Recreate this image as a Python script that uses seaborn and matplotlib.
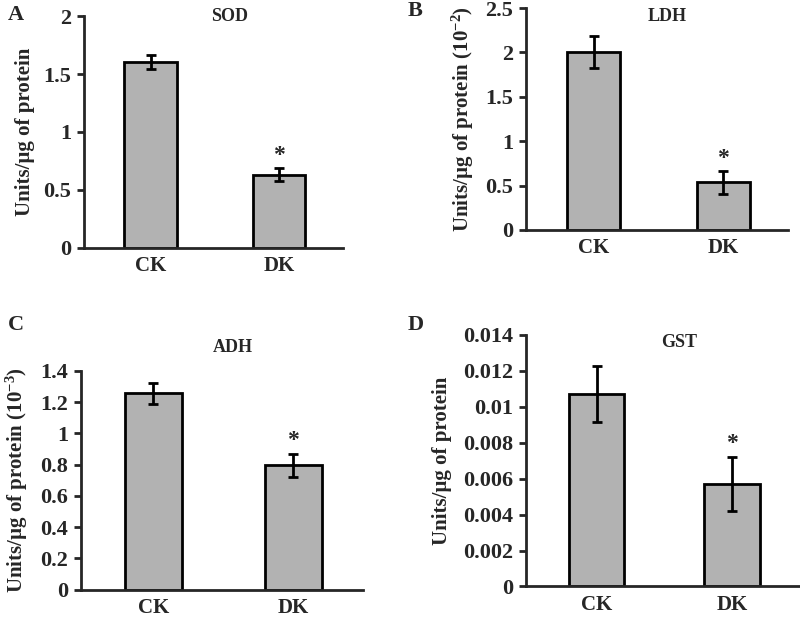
import numpy as np
import pandas as pd
import matplotlib
matplotlib.use("Agg")
import matplotlib.pyplot as plt
import seaborn as sns

# data
groups = ["CK", "DK"]
sod_mean = [1.60, 0.63]
sod_err = [0.06, 0.055]
ldh_mean = [2.00, 0.535]
ldh_err = [0.18, 0.13]
adh_mean = [1.255, 0.795]
adh_err = [0.07, 0.075]
gst_mean = [0.0107, 0.0057]
gst_err = [0.00155, 0.00152]

sns.set_style("ticks")
plt.rcParams["font.family"] = ["Liberation Serif", "DejaVu Serif"]
plt.rcParams["font.weight"] = "bold"
plt.rcParams["mathtext.fontset"] = "custom"
plt.rcParams["mathtext.rm"] = "Liberation Serif:bold"
plt.rcParams["mathtext.default"] = "rm"

fig = plt.figure(figsize=(8, 6.18), dpi=100)

panels = [
    # letter, title, mean, err, ylim, yticks, ylabel, axes rect, title pos, letter pos, label x, tick size
    ("A", "SOD", sod_mean, sod_err, (0, 2), np.arange(0, 2.01, 0.5),
     "Units/µg of protein", [0.105, 0.599, 0.324, 0.375], (0.56, 1.0), (0.01, 0.975), -0.19, 16),
    ("B", "LDH", ldh_mean, ldh_err, (0, 2.5), np.arange(0, 2.51, 0.5),
     "Units/µg of protein (10$^{-2}$)", [0.6575, 0.628, 0.328, 0.359], (0.54, 0.964), (0.51, 0.983), -0.19, 16),
    ("C", "ADH", adh_mean, adh_err, (0, 1.4), np.arange(0, 1.41, 0.2),
     "Units/µg of protein (10$^{-3}$)", [0.101, 0.046, 0.353, 0.354], (0.54, 1.105), (0.01, 0.474), -0.18, 16),
    ("D", "GST", gst_mean, gst_err, (0, 0.014), np.arange(0, 0.01401, 0.002),
     "Units/µg of protein", [0.6575, 0.051, 0.3425, 0.407], (0.56, 0.97), (0.51, 0.474), -0.27, 16),
]

tick_fmt = {
    "A": lambda v: f"{v:g}",
    "B": lambda v: f"{v:g}",
    "C": lambda v: f"{v:g}",
    "D": lambda v: f"{round(v, 3):g}",
}

for letter, title, mean, err, ylim, yticks, ylabel, rect, tpos, lpos, labx, tsize in panels:
    ax = fig.add_axes(rect)
    df = pd.DataFrame({"group": groups, "value": mean})
    sns.barplot(data=df, x="group", y="value", color="#b2b2b2", width=0.41,
                edgecolor="black", linewidth=2, saturation=1, ax=ax)
    ax.errorbar([0, 1], mean, yerr=err, fmt="none", ecolor="black",
                elinewidth=2, capsize=3.5, capthick=2)
    # significance mark
    ax.text(1, mean[1] + err[1] + (ylim[1] - ylim[0]) * 0.01, "*",
            ha="center", va="bottom", fontsize=17, fontweight="bold")
    ax.set_xlim(-0.52, 1.5)
    ax.set_ylim(*ylim)
    ax.set_yticks(yticks)
    ax.set_yticklabels([tick_fmt[letter](v) for v in yticks])
    ax.set_xlabel("")
    ax.set_ylabel(ylabel, fontsize=15, fontweight="bold")
    ax.yaxis.set_label_coords(labx, 0.5)
    sns.despine(ax=ax)
    for s in ["left", "bottom"]:
        ax.spines[s].set_linewidth(2)
    ax.tick_params(axis="y", length=5, width=2, labelsize=tsize, pad=4)
    ax.tick_params(axis="x", length=0, labelsize=15, pad=6)
    ax.set_facecolor("white")
    ax.text(tpos[0], tpos[1], title, transform=ax.transAxes, ha="center",
            va="center", fontsize=13, fontweight="bold")
    fig.text(lpos[0], lpos[1], letter, ha="left", va="center",
             fontsize=16, fontweight="bold")

fig.savefig("out.png", dpi=100, facecolor="white")
